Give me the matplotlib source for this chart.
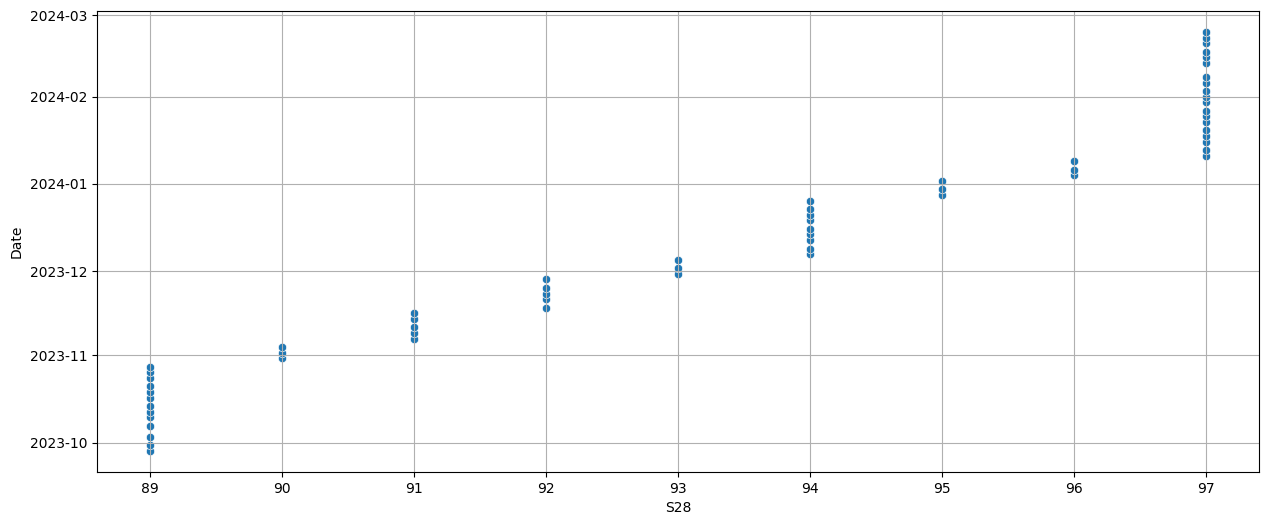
import pandas as pd
import matplotlib
matplotlib.use('Agg')
import matplotlib.pyplot as plt
import matplotlib.dates as mdates
import seaborn as sns

# dates, grouped by S28 value
s28_89 = ['2023-09-28', '2023-09-30', '2023-10-03', '2023-10-07', '2023-10-10',
          '2023-10-12', '2023-10-14', '2023-10-17', '2023-10-19', '2023-10-21',
          '2023-10-24', '2023-10-26', '2023-10-28']
s28_90 = ['2023-10-31', '2023-11-02', '2023-11-04']
s28_91 = ['2023-11-07', '2023-11-09', '2023-11-11', '2023-11-14', '2023-11-16']
s28_92 = ['2023-11-18', '2023-11-21', '2023-11-23', '2023-11-25', '2023-11-28']
s28_93 = ['2023-11-30', '2023-12-02', '2023-12-05']
s28_94 = ['2023-12-07', '2023-12-09', '2023-12-12', '2023-12-14', '2023-12-16',
          '2023-12-19', '2023-12-21', '2023-12-23', '2023-12-26']
s28_95 = ['2023-12-28', '2023-12-30', '2024-01-02']
s28_96 = ['2024-01-04', '2024-01-06', '2024-01-09']
s28_97 = ['2024-01-11', '2024-01-13', '2024-01-16', '2024-01-18', '2024-01-20',
          '2024-01-23', '2024-01-25', '2024-01-27', '2024-01-30', '2024-02-01',
          '2024-02-03', '2024-02-06', '2024-02-08', '2024-02-13', '2024-02-15',
          '2024-02-17', '2024-02-20', '2024-02-22', '2024-02-24']

groups = {89: s28_89, 90: s28_90, 91: s28_91, 92: s28_92, 93: s28_93,
          94: s28_94, 95: s28_95, 96: s28_96, 97: s28_97}

rows = []
for k, dates in groups.items():
    for d in dates:
        rows.append({'S28': k, 'Date': pd.Timestamp(d)})
df = pd.DataFrame(rows)

fig, ax = plt.subplots(figsize=(12.69, 5.26), dpi=100)
fig.subplots_adjust(left=0.0764, right=0.992, top=0.979, bottom=0.1027)

sns.scatterplot(data=df, x='S28', y='Date', ax=ax)
ax.yaxis.set_major_formatter(mdates.DateFormatter('%Y-%m'))
ax.grid(True)

plt.savefig('out.png')
